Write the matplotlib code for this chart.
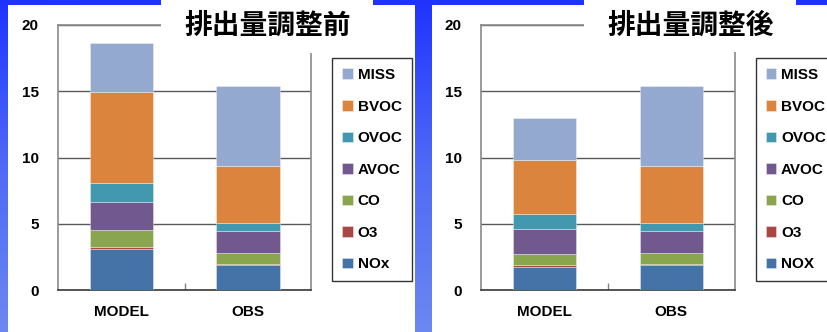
import numpy as np
import matplotlib
matplotlib.use("Agg")
import matplotlib.pyplot as plt
from matplotlib.colors import LinearSegmentedColormap
from matplotlib.patches import Rectangle

# Source contributions (stacked, bottom to top)
categories = ["MODEL", "OBS"]
species_before = ["NOx", "O3", "CO", "AVOC", "OVOC", "BVOC", "MISS"]
species_after = ["NOX", "O3", "CO", "AVOC", "OVOC", "BVOC", "MISS"]

# 排出量調整前
before_model = [3.1, 0.15, 1.3, 2.1, 1.4, 6.9, 3.7]
before_obs = [1.9, 0.07, 0.8, 1.7, 0.55, 4.35, 6.0]
# 排出量調整後
after_model = [1.75, 0.1, 0.85, 1.9, 1.1, 4.1, 3.15]
after_obs = [1.9, 0.07, 0.8, 1.7, 0.55, 4.35, 6.0]

colors = ["#4572A7", "#AA4643", "#89A54E", "#71588F", "#4198AF", "#DB843D", "#93A9CF"]

titles = ["排出量調整前", "排出量調整後"]
yticks = [0, 5, 10, 15, 20]

W, H = 827, 332
fig = plt.figure(figsize=(W / 100, H / 100), dpi=100)


def fx(px):
    return px / W


def fy(py):
    return 1 - py / H


# Blue gradient backdrop with white slide panels
bg = fig.add_axes([0, 0, 1, 1], zorder=-10)
bg.set_axis_off()
cmap = LinearSegmentedColormap.from_list("bg", ["#1f33ff", "#4f6af6", "#6c88f0"])
grad = np.linspace(0, 1, 256).reshape(-1, 1)
bg.imshow(grad, cmap=cmap, aspect="auto", extent=[0, 1, 0, 1], origin="upper")
bg.set_xlim(0, 1)
bg.set_ylim(0, 1)
for x0, x1 in [(8, 415), (432, 827)]:
    bg.add_patch(Rectangle((fx(x0), 0), fx(x1) - fx(x0), fy(5), facecolor="white",
                           edgecolor="none"))

tick_font = dict(family="Liberation Sans", weight="bold", size=11)


def draw_panel(left_px, series, labels, title, title_box):
    ax = fig.add_axes([fx(left_px), fy(290), fx(253.4), (290 - 25) / H])
    x = np.arange(len(categories))
    data = np.array(series).T  # species x categories
    bottom = np.zeros(len(categories))
    handles = []
    for i, lab in enumerate(labels):
        b = ax.bar(x, data[i], 0.5, bottom=bottom, color=colors[i],
                   edgecolor=(1, 1, 1, 0.5), linewidth=0.5, label=lab, zorder=3)
        handles.append(b)
        bottom += data[i]
    ax.set_xlim(-0.5, 1.5)
    ax.set_ylim(0, 20)
    ax.set_yticks(yticks)
    ax.set_yticklabels([str(v) for v in yticks], fontdict=tick_font)
    ax.set_xticks(x)
    ax.set_xticklabels(categories, fontdict=tick_font)
    ax.set_xticks([0.5], minor=True)
    ax.tick_params(axis="y", length=0, pad=14, colors="black")
    ax.tick_params(axis="x", which="major", length=0, pad=11, colors="black")
    ax.tick_params(axis="x", which="minor", direction="in", length=5, width=1,
                   color="#808080")
    ax.grid(axis="y", color="#595959", linewidth=1, zorder=1)
    for s in ["left", "right", "top"]:
        ax.spines[s].set_color("#8a8a8a")
        ax.spines[s].set_linewidth(1.2)
    ax.spines["bottom"].set_color("#3a3a3a")
    ax.spines["bottom"].set_linewidth(1.2)
    leg = ax.legend(handles[::-1], labels[::-1], loc="upper left",
                    bbox_to_anchor=(1.083, 0.875), prop=tick_font,
                    frameon=True, fancybox=False, edgecolor="black",
                    handlelength=0.7, handleheight=0.7, handletextpad=0.3,
                    labelspacing=1.15, borderpad=0.65, borderaxespad=0)
    leg.get_frame().set_linewidth(1.0)

    # White title plate overlapping the top-right corner of the frame
    x0, x1, y1 = title_box
    fig.patches.append(Rectangle((fx(x0), fy(y1)), fx(x1) - fx(x0), fy(0) - fy(y1),
                                 transform=fig.transFigure, facecolor="white",
                                 edgecolor="none", zorder=1))
    fig.text(fx((x0 + x1) / 2 + 1), fy(26), title, ha="center", va="center",
             family=["Noto Sans CJK JP", "DejaVu Sans"], weight="bold", size=20,
             zorder=5)
    return ax


draw_panel(58, [before_model, before_obs], species_before, titles[0], (161, 373, 53))
draw_panel(481.3, [after_model, after_obs], species_after, titles[1], (584, 796, 52))

fig.savefig("out.png", dpi=100)
